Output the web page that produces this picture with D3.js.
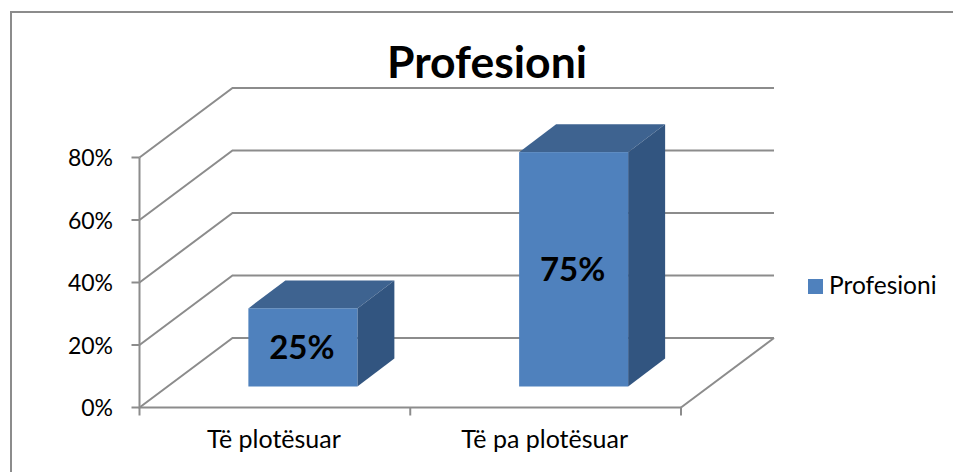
<!DOCTYPE html>
<html><head><meta charset="utf-8">
<script src="https://cdn.jsdelivr.net/npm/d3@7/dist/d3.min.js"></script>
<style>html,body{margin:0;padding:0;background:#fff}svg{display:block}text{font-family:Lato,"Open Sans",sans-serif;fill:#000}</style>
</head><body><svg width="953" height="472"></svg>
<script>
const categories = ["Të plotësuar", "Të pa plotësuar"];
const values = [0.25, 0.75];
const valueLabels = ["25%", "75%"];
const yTicks = [0, 0.2, 0.4, 0.6, 0.8];
const seriesName = "Profesioni";
const chartTitle = "Profesioni";

const svg = d3.select("svg");
const grey = "#8c8c8c", front = "#4f81bd", top_ = "#3e6390", side = "#325580";
const x = d3.scaleBand().domain(categories).range([139.5, 681]).paddingInner(0).paddingOuter(0);
const y = d3.scaleLinear().domain([0, 0.8]).range([407.5, 157.5]);
const floorDx = 93, floorDy = -69.5;       // full depth of the 3D box
const barDx = 37, barDy = -28;             // depth of a bar
const barShiftX = 28, barShiftY = -21;     // bar front offset from the front plane
const barW = 109;

// frame
svg.append("path").attr("d", "M11 472V12H953").attr("fill", "none").attr("stroke", grey).attr("stroke-width", 2);

const line = (pts, w = 2) => svg.append("path").attr("d", d3.line()(pts)).attr("fill", "none").attr("stroke", grey).attr("stroke-width", w);
const x0 = x.range()[0], x1 = x.range()[1];

// gridlines on side + back walls
yTicks.forEach(t => line([[x0, y(t)], [x0 + floorDx, y(t) + floorDy], [x1 + floorDx, y(t) + floorDy]]));
// floor right edge
line([[x1 + floorDx, y(0) + floorDy], [x1, y(0)]]);
// axes
line([[x0, y(0.8)], [x0, y(0)], [x1, y(0)]]);
yTicks.forEach(t => line([[x0 - 8, y(t)], [x0, y(t)]]));
[x0, x(categories[1]), x1].forEach(v => line([[v, y(0)], [v, y(0) + 8]]));

// axis labels
yTicks.forEach(t => svg.append("text").attr("x", 113).attr("y", y(t) + 8.5).attr("text-anchor", "end")
  .attr("font-size", 23).text(d3.format(".0%")(t)));
categories.forEach(c => svg.append("text").attr("x", x(c) + x.bandwidth() / 2 - 1).attr("y", 448).attr("text-anchor", "middle")
  .attr("font-size", 25).text(c));

// bars
categories.forEach((c, i) => {
  const v = values[i];
  const cx = x(c) + x.bandwidth() / 2 + barShiftX;
  const l = cx - barW / 2, r = cx + barW / 2;
  const b = y(0) + barShiftY, t = y(v) + barShiftY;
  svg.append("path").attr("fill", top_).attr("d", d3.line()([[l, t], [l + barDx, t + barDy], [r + barDx, t + barDy], [r, t]]) + "Z");
  svg.append("path").attr("fill", side).attr("d", d3.line()([[r, t], [r + barDx, t + barDy], [r + barDx, b + barDy], [r, b]]) + "Z");
  svg.append("rect").attr("x", l).attr("y", t).attr("width", barW).attr("height", b - t).attr("fill", front);
  svg.append("text").attr("x", cx - 1).attr("y", (t + b) / 2 + 12).attr("text-anchor", "middle")
    .attr("font-size", 33).attr("font-weight", 700).text(valueLabels[i]);
});

// title
svg.append("text").attr("x", 487).attr("y", 78).attr("text-anchor", "middle").attr("font-size", 44.5).attr("font-weight", 700).text(chartTitle);

// legend
svg.append("rect").attr("x", 808).attr("y", 279).attr("width", 15).attr("height", 15).attr("fill", front);
svg.append("text").attr("x", 829).attr("y", 294).attr("font-size", 24.5).text(seriesName);
</script></body></html>
